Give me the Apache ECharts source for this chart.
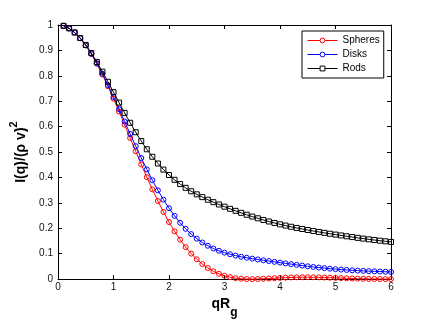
<!DOCTYPE html>
<html>
<head>
<meta charset="utf-8">
<script src="https://cdn.jsdelivr.net/npm/echarts@6/dist/echarts.min.js"></script>
<style>
  html, body { margin: 0; padding: 0; background: #fff; }
  #chart { width: 432px; height: 324px; }
</style>
</head>
<body>
<div id="chart"></div>
<script>
// Normalised scattering intensity I(q)/(ρv)² against qRg for three particle shapes.
const qRg = [
  0.1, 0.2, 0.3, 0.4, 0.5, 0.6, 0.7, 0.8, 0.9, 1.0,
  1.1, 1.2, 1.3, 1.4, 1.5, 1.6, 1.7, 1.8, 1.9, 2.0,
  2.1, 2.2, 2.3, 2.4, 2.5, 2.6, 2.7, 2.8, 2.9, 3.0,
  3.1, 3.2, 3.3, 3.4, 3.5, 3.6, 3.7, 3.8, 3.9, 4.0,
  4.1, 4.2, 4.3, 4.4, 4.5, 4.6, 4.7, 4.8, 4.9, 5.0,
  5.1, 5.2, 5.3, 5.4, 5.5, 5.6, 5.7, 5.8, 5.9, 6.0
];

const spheres = [
  0.9967, 0.9867, 0.9704, 0.9479, 0.9196, 0.8860, 0.8477, 0.8052, 0.7593, 0.7106,
  0.6599, 0.6079, 0.5554, 0.5030, 0.4514, 0.4013, 0.3531, 0.3073, 0.2644, 0.2246,
  0.1881, 0.1552, 0.1259, 0.1002, 0.0780, 0.0592, 0.0435, 0.0308, 0.0207, 0.0131,
  0.0075, 0.0037, 0.0014, 0.0002, 0.0000, 0.0004, 0.0013, 0.0024, 0.0036, 0.0047,
  0.0057, 0.0065, 0.0071, 0.0074, 0.0074, 0.0072, 0.0068, 0.0062, 0.0055, 0.0048,
  0.0040, 0.0032, 0.0024, 0.0018, 0.0012, 0.0007, 0.0004, 0.0002, 0.0000, 0.0000
];

const disks = [
  0.9967, 0.9868, 0.9704, 0.9481, 0.9201, 0.8869, 0.8494, 0.8080, 0.7637, 0.7170,
  0.6689, 0.6201, 0.5713, 0.5232, 0.4765, 0.4317, 0.3892, 0.3494, 0.3127, 0.2791,
  0.2488, 0.2217, 0.1979, 0.1771, 0.1592, 0.1440, 0.1312, 0.1204, 0.1114, 0.1040,
  0.0977, 0.0925, 0.0880, 0.0841, 0.0805, 0.0772, 0.0740, 0.0710, 0.0679, 0.0649,
  0.0619, 0.0589, 0.0560, 0.0531, 0.0504, 0.0478, 0.0453, 0.0431, 0.0410, 0.0391,
  0.0374, 0.0360, 0.0346, 0.0334, 0.0324, 0.0314, 0.0305, 0.0297, 0.0289, 0.0281
];

const rods = [
  0.9967, 0.9868, 0.9706, 0.9487, 0.9215, 0.8898, 0.8545, 0.8164, 0.7765, 0.7356,
  0.6946, 0.6542, 0.6152, 0.5781, 0.5432, 0.5110, 0.4815, 0.4549, 0.4310, 0.4097,
  0.3908, 0.3740, 0.3591, 0.3457, 0.3336, 0.3226, 0.3124, 0.3028, 0.2937, 0.2850,
  0.2766, 0.2686, 0.2608, 0.2533, 0.2461, 0.2393, 0.2328, 0.2267, 0.2210, 0.2156,
  0.2106, 0.2059, 0.2014, 0.1972, 0.1932, 0.1893, 0.1856, 0.1820, 0.1785, 0.1751,
  0.1718, 0.1685, 0.1654, 0.1623, 0.1594, 0.1565, 0.1538, 0.1512, 0.1487, 0.1463
];

const xTicks = [0, 1, 2, 3, 4, 5, 6];
const yTicks = [0, 0.1, 0.2, 0.3, 0.4, 0.5, 0.6, 0.7, 0.8, 0.9, 1];

const seriesNames = ['Spheres', 'Disks', 'Rods'];
const seriesColors = ['#ff0000', '#0000ff', '#000000'];
const seriesSymbols = ['circle', 'circle', 'rect'];
const seriesValues = [spheres, disks, rods];

const FONT = '"Liberation Sans", Arial, Helvetica, sans-serif';

function frameAxis(ticks, position, showLabels, extra) {
  return Object.assign({
    type: 'value',
    position: position,
    min: ticks[0],
    max: ticks[ticks.length - 1],
    interval: +(ticks[1] - ticks[0]).toFixed(3),
    axisLine: { show: true, onZero: false, lineStyle: { color: '#000', width: 1 } },
    axisTick: { show: true, inside: true, length: 4, lineStyle: { color: '#000', width: 1 } },
    axisLabel: {
      show: showLabels,
      fontSize: 10,
      fontFamily: FONT,
      color: '#111',
      formatter: v => String(+v.toFixed(1))
    },
    splitLine: { show: false }
  }, extra || {});
}

const chart = echarts.init(document.getElementById('chart'), null, { renderer: 'canvas' });

chart.setOption({
  animation: false,
  backgroundColor: '#fff',
  grid: { left: 57, right: 41, top: 25, bottom: 40, containLabel: false },
  legend: {
    data: seriesNames.map((name, k) => ({
      name: name,
      itemStyle: { color: '#fff', borderColor: seriesColors[k], borderWidth: 1 },
      lineStyle: { color: seriesColors[k], width: 1 }
    })),
    orient: 'vertical',
    left: 302,
    top: 31,
    itemWidth: 30,
    itemHeight: 6,
    itemGap: 3,
    padding: [4, 4, 4, 5],
    borderColor: '#000',
    borderWidth: 1,
    borderRadius: 0,
    backgroundColor: '#fff',
    textStyle: { fontSize: 10, fontFamily: FONT, color: '#000', lineHeight: 11 }
  },
  xAxis: [
    frameAxis(xTicks, 'bottom', true, {
      name: '{b|qR}{s|g}',
      nameLocation: 'middle',
      nameGap: 15,
      nameTextStyle: {
        rich: {
          b: { fontSize: 14, fontWeight: 'bold', fontFamily: FONT, color: '#000', lineHeight: 22, verticalAlign: 'top' },
          s: { fontSize: 12, fontWeight: 'bold', fontFamily: FONT, color: '#000', lineHeight: 22, verticalAlign: 'bottom' }
        }
      },
      axisLabel: {
        show: true, fontSize: 10, fontFamily: FONT, color: '#111', margin: 3,
        formatter: v => String(+v.toFixed(1))
      }
    }),
    frameAxis(xTicks, 'top', false)
  ],
  yAxis: [
    frameAxis(yTicks, 'left', true, {
      name: '{b|I(q)/(ρ v)}{p|2}',
      nameLocation: 'middle',
      nameGap: 30,
      nameTextStyle: {
        rich: {
          b: { fontSize: 14, fontWeight: 'bold', fontFamily: FONT, color: '#000', lineHeight: 20, verticalAlign: 'bottom' },
          p: { fontSize: 11, fontWeight: 'bold', fontFamily: FONT, color: '#000', lineHeight: 20, verticalAlign: 'top' }
        }
      },
      axisLabel: {
        show: true, fontSize: 10, fontFamily: FONT, color: '#111', margin: 5,
        formatter: v => String(+v.toFixed(1))
      }
    }),
    frameAxis(yTicks, 'right', false)
  ],
  series: seriesNames.map((name, k) => ({
    name: name,
    type: 'line',
    xAxisIndex: 0,
    yAxisIndex: 0,
    data: qRg.map((q, i) => [q, seriesValues[k][i]]),
    symbol: seriesSymbols[k],
    symbolSize: 5,
    showSymbol: true,
    showAllSymbol: true,
    clip: false,
    lineStyle: { color: seriesColors[k], width: 1 },
    itemStyle: { color: 'rgba(255,255,255,0)', borderColor: seriesColors[k], borderWidth: 1 },
    emphasis: { disabled: true },
    z: 2 + k
  }))
});
</script>
</body>
</html>
